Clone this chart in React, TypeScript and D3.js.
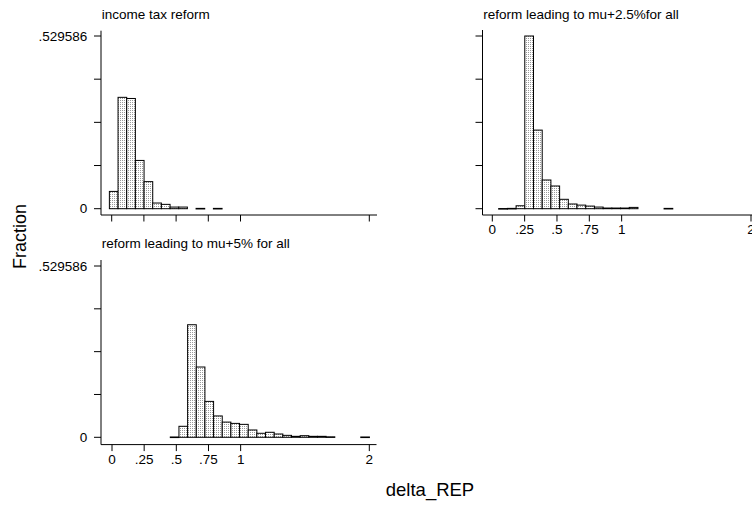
import React from "react";
import * as d3 from "d3";

// Histogram bins (common to all panels): start and width in delta_REP units
const binStart = -0.018;
const binWidth = 0.0673;

// Fraction per bin (30 bins)
const incomeTax = [
  0.053, 0.3415, 0.338, 0.148, 0.083, 0.0174, 0.0133, 0.005, 0.005, 0,
  0.001, 0, 0.001, 0, 0, 0, 0, 0, 0, 0,
  0, 0, 0, 0, 0, 0, 0, 0, 0, 0,
];
const mu25 = [
  0, 0.0005, 0.001, 0.009, 0.529586, 0.241, 0.088, 0.0696, 0.0288, 0.0144,
  0.0110, 0.0080, 0.005, 0.002, 0.002, 0.002, 0.004, 0, 0, 0,
  0.001, 0, 0, 0, 0, 0, 0, 0, 0, 0,
];
const mu5 = [
  0, 0, 0, 0, 0, 0, 0, 0.001, 0.034, 0.348,
  0.2173, 0.111, 0.066, 0.047, 0.043, 0.040, 0.0226, 0.0124, 0.0155, 0.0102,
  0.006, 0.003, 0.005, 0.003, 0.003, 0.0015, 0, 0, 0, 0.001,
];

const panelTitles = [
  "income tax reform",
  "reform leading to mu+2.5%for all",
  "reform leading to mu+5% for all",
];
const yMax = 0.529586;
const yTickValues = [0, yMax / 4, yMax / 2, (3 * yMax) / 4, yMax];
const yTickLabels = ["0", "", "", "", ".529586"];
const xTickValues = [0, 0.25, 0.5, 0.75, 1, 2];
const xTickLabels = ["0", ".25", ".5", ".75", "1", "2"];
const xTitle = "delta_REP";
const yTitle = "Fraction";

const FONT = "'Liberation Sans', Arial, Helvetica, sans-serif";

type PanelGeom = {
  left: number;
  right: number;
  x0: number;
  x2: number;
  top: number;
  zero: number;
  axisY: number;
  axisTop: number;
  titleY: number;
};

function Panel({
  g,
  data,
  title,
  showXLabels,
  showYLabels,
}: {
  g: PanelGeom;
  data: number[];
  title: string;
  showXLabels: boolean;
  showYLabels: boolean;
}) {
  const xs = d3.scaleLinear().domain([0, 2]).range([g.x0, g.x2]);
  const ys = d3.scaleLinear().domain([0, yMax]).range([g.zero, g.top]);
  return (
    <g>
      <text x={g.left + 0.7} y={g.titleY} fontSize={13.5} fontFamily={FONT} fill="#000">
        {title}
      </text>
      {data.map((v, k) => {
        if (v <= 0) return null;
        const a = binStart + k * binWidth;
        const x = xs(a);
        const w = xs(a + binWidth) - x;
        const y = ys(v);
        return (
          <rect
            key={k}
            x={x}
            y={y}
            width={w}
            height={Math.max(g.zero - y, 0.6)}
            fill="url(#dots)"
            stroke="#000"
            strokeWidth={1}
          />
        );
      })}
      {/* y axis */}
      <line x1={g.left} x2={g.left} y1={g.axisTop} y2={g.axisY} stroke="#000" strokeWidth={1} />
      {yTickValues.map((t, i) => (
        <g key={i}>
          <line x1={g.left - 7} x2={g.left} y1={ys(t)} y2={ys(t)} stroke="#000" strokeWidth={1} />
          {showYLabels && yTickLabels[i] && (
            <text
              x={g.left - 13.7}
              y={ys(t)}
              textAnchor="end"
              dominantBaseline="central"
              fontSize={13.5}
              fontFamily={FONT}
              fill="#000"
            >
              {yTickLabels[i]}
            </text>
          )}
        </g>
      ))}
      {/* x axis */}
      <line x1={g.left} x2={g.right} y1={g.axisY} y2={g.axisY} stroke="#000" strokeWidth={1} />
      {xTickValues.map((t, i) => (
        <g key={i}>
          <line x1={xs(t)} x2={xs(t)} y1={g.axisY} y2={g.axisY + 6.5} stroke="#000" strokeWidth={1} />
          {showXLabels && (
            <text
              x={xs(t)}
              y={g.axisY + 19}
              textAnchor="middle"
              fontSize={13.5}
              fontFamily={FONT}
              fill="#000"
            >
              {xTickLabels[i]}
            </text>
          )}
        </g>
      ))}
    </g>
  );
}

export default function App() {
  const p1: PanelGeom = {
    left: 101, right: 377, x0: 111.7, x2: 369.3,
    top: 36, zero: 208.7, axisY: 215, axisTop: 30.7, titleY: 18.8,
  };
  const p2: PanelGeom = {
    left: 482.5, right: 758, x0: 492.3, x2: 751,
    top: 36, zero: 208.7, axisY: 215, axisTop: 30, titleY: 18.8,
  };
  const p3: PanelGeom = {
    left: 101, right: 376.5, x0: 112, x2: 369.3,
    top: 266, zero: 437.3, axisY: 444.6, axisTop: 260, titleY: 248.3,
  };
  return (
    <svg
      width={752}
      height={505}
      style={{ position: "fixed", left: 0, top: 0, background: "#fff" }}
    >
      <defs>
        <pattern id="dots" width={2} height={2} patternUnits="userSpaceOnUse">
          <rect width={2} height={2} fill="#fff" />
          <rect x={0} y={0} width={1} height={1} fill="#9a9a9a" />
        </pattern>
      </defs>
      <rect width={752} height={505} fill="#fff" />
      <Panel g={p1} data={incomeTax} title={panelTitles[0]} showXLabels={false} showYLabels={true} />
      <Panel g={p2} data={mu25} title={panelTitles[1]} showXLabels={true} showYLabels={false} />
      <Panel g={p3} data={mu5} title={panelTitles[2]} showXLabels={true} showYLabels={true} />
      <text
        transform="translate(25.5,236.5) rotate(-90)"
        textAnchor="middle"
        fontSize={18}
        fontFamily={FONT}
        fill="#000"
      >
        {yTitle}
      </text>
      <text x={430} y={495.6} textAnchor="middle" fontSize={18.5} fontFamily={FONT} fill="#000">
        {xTitle}
      </text>
    </svg>
  );
}
